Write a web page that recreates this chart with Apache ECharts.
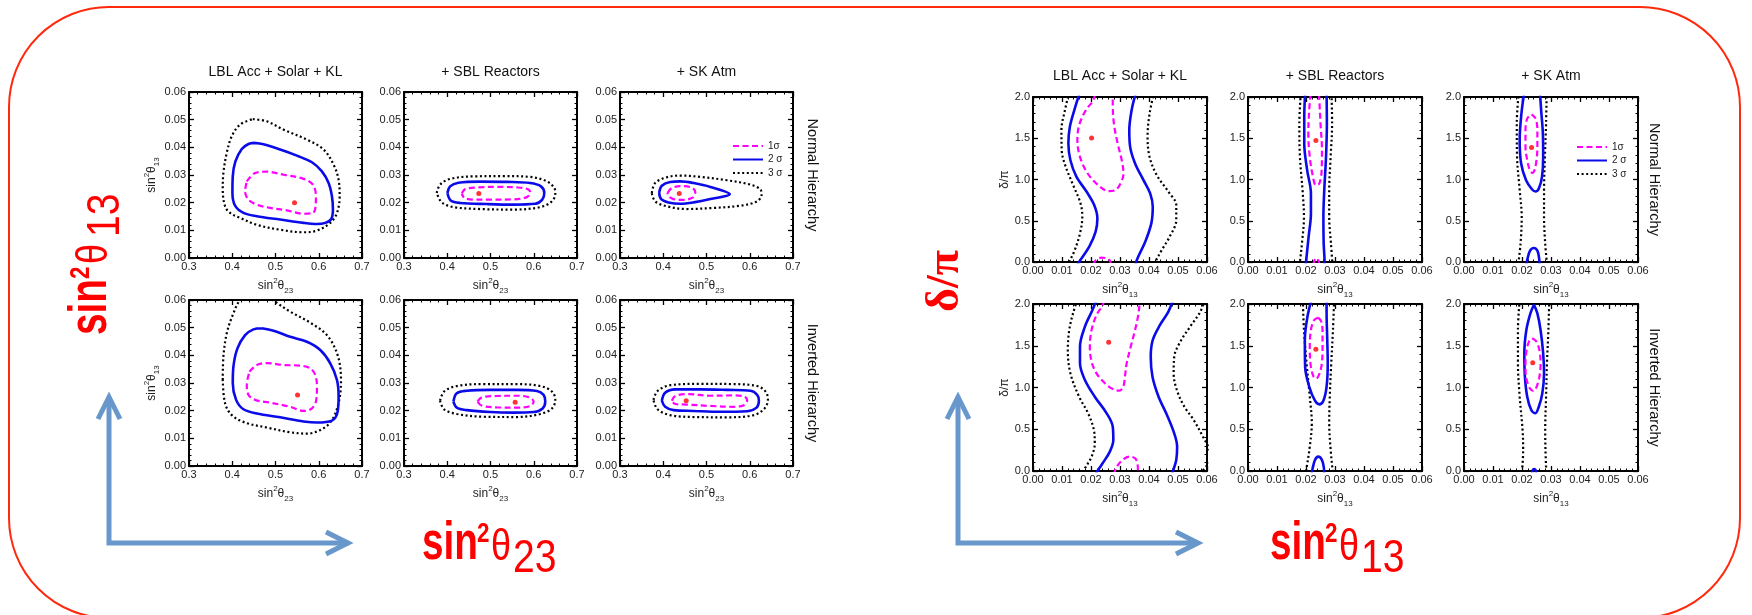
<!DOCTYPE html>
<html>
<head>
<meta charset="utf-8">
<script src="https://cdn.jsdelivr.net/npm/echarts@6/dist/echarts.min.js"></script>
<style>
  html, body { margin: 0; padding: 0; background: #ffffff; }
  #chart { width: 1752px; height: 615px; }
</style>
</head>
<body>
<div id="chart"></div>
<script>
// ---------------------------------------------------------------
// Text
// ---------------------------------------------------------------
const columnTitles = ['LBL Acc + Solar + KL', '+ SBL Reactors', '+ SK Atm'];
const rowLabels = ['Normal Hierarchy', 'Inverted Hierarchy'];
const sigmaNames = ['1σ', '2 σ', '3 σ'];

// Axis ranges and tick steps
const s23Range = [0.3, 0.7];  const s23Step = 0.1;
const s13Range = [0, 0.06];   const s13Step = 0.01;
const dcpRange = [0, 2];      const dcpStep = 0.5;

// ---------------------------------------------------------------
// sin²θ23 vs sin²θ13 contours  [sin²θ23, sin²θ13]
// ---------------------------------------------------------------
// Normal hierarchy, LBL Acc + Solar + KL
const t23_nh_lbl_1s = [[0.4336,0.0277],[0.4529,0.0307],[0.4799,0.0312],[0.5185,0.0301],[0.5649,0.0286],[0.5865,0.0265],[0.5934,0.0223],[0.5927,0.0187],[0.5865,0.0163],[0.5649,0.0160],[0.5263,0.0172],[0.4876,0.0181],[0.4568,0.0193],[0.4375,0.0211],[0.4297,0.0241]];
const t23_nh_lbl_2s = [[0.4506,0.0416],[0.4722,0.0411],[0.5108,0.0392],[0.5494,0.0370],[0.5842,0.0346],[0.6073,0.0313],[0.6228,0.0271],[0.6305,0.0223],[0.6328,0.0175],[0.6290,0.0141],[0.6151,0.0127],[0.5958,0.0123],[0.5649,0.0127],[0.5108,0.0139],[0.4568,0.0151],[0.4259,0.0163],[0.4066,0.0189],[0.4004,0.0235],[0.4012,0.0295],[0.4073,0.0349],[0.4220,0.0394],[0.4375,0.0412]];
const t23_nh_lbl_3s = [[0.4475,0.0502],[0.4799,0.0494],[0.5185,0.0464],[0.5726,0.0428],[0.6112,0.0392],[0.6344,0.0337],[0.6459,0.0283],[0.6483,0.0223],[0.6421,0.0163],[0.6266,0.0127],[0.5958,0.0099],[0.5649,0.0093],[0.5108,0.0102],[0.4568,0.0120],[0.4181,0.0145],[0.3950,0.0163],[0.3834,0.0187],[0.3780,0.0247],[0.3795,0.0307],[0.3873,0.0380],[0.3988,0.0440],[0.4181,0.0482]];
const t23_nh_lbl_best = [0.544, 0.0200];
// Normal hierarchy, + SBL Reactors
const t23_nh_sbl_1s = [[0.4336,0.0233],[0.4413,0.0249],[0.4683,0.0255],[0.5147,0.0257],[0.5610,0.0255],[0.5857,0.0249],[0.5919,0.0237],[0.5842,0.0220],[0.5533,0.0212],[0.4992,0.0211],[0.4606,0.0211],[0.4398,0.0217]];
const t23_nh_sbl_2s = [[0.4004,0.0235],[0.4066,0.0259],[0.4259,0.0272],[0.4761,0.0276],[0.5378,0.0275],[0.5919,0.0271],[0.6166,0.0259],[0.6243,0.0235],[0.6197,0.0211],[0.6035,0.0196],[0.5533,0.0193],[0.4915,0.0195],[0.4297,0.0199],[0.4081,0.0208]];
const t23_nh_sbl_3s = [[0.3757,0.0235],[0.3834,0.0265],[0.4066,0.0286],[0.4606,0.0295],[0.5301,0.0296],[0.5919,0.0293],[0.6305,0.0277],[0.6475,0.0253],[0.6498,0.0233],[0.6421,0.0205],[0.6151,0.0184],[0.5533,0.0175],[0.4761,0.0177],[0.4143,0.0184],[0.3873,0.0201]];
const t23_nh_sbl_best = [0.473, 0.0233];
// Normal hierarchy, + SK Atm
const t23_nh_atm_1s = [[0.4099,0.0235],[0.4199,0.0253],[0.4431,0.0260],[0.4663,0.0254],[0.4741,0.0237],[0.4687,0.0219],[0.4470,0.0210],[0.4238,0.0213],[0.4122,0.0223]];
const t23_nh_atm_2s = [[0.3905,0.0235],[0.3967,0.0261],[0.4161,0.0275],[0.4393,0.0277],[0.4702,0.0271],[0.5089,0.0257],[0.5538,0.0231],[0.5089,0.0213],[0.4702,0.0201],[0.4393,0.0196],[0.4122,0.0201],[0.3952,0.0213]];
const t23_nh_atm_3s = [[0.3735,0.0235],[0.3812,0.0271],[0.4083,0.0292],[0.4393,0.0298],[0.4857,0.0293],[0.5476,0.0281],[0.6017,0.0265],[0.6250,0.0247],[0.6273,0.0229],[0.6172,0.0205],[0.5785,0.0189],[0.5166,0.0181],[0.4547,0.0177],[0.4083,0.0187],[0.3812,0.0205]];
const t23_nh_atm_best = [0.437, 0.0233];
// Inverted hierarchy, LBL Acc + Solar + KL
const t23_ih_lbl_1s = [[0.4398,0.0341],[0.4568,0.0365],[0.4799,0.0372],[0.5185,0.0365],[0.5571,0.0363],[0.5803,0.0353],[0.5919,0.0329],[0.5958,0.0287],[0.5942,0.0239],[0.5842,0.0208],[0.5649,0.0199],[0.5340,0.0214],[0.4876,0.0229],[0.4529,0.0239],[0.4375,0.0257],[0.4336,0.0293]];
const t23_ih_lbl_2s = [[0.4683,0.0498],[0.4954,0.0489],[0.5340,0.0467],[0.5726,0.0449],[0.6035,0.0419],[0.6266,0.0371],[0.6421,0.0311],[0.6459,0.0251],[0.6436,0.0196],[0.6305,0.0164],[0.5958,0.0157],[0.5649,0.0161],[0.5108,0.0176],[0.4568,0.0190],[0.4259,0.0205],[0.4089,0.0239],[0.4012,0.0299],[0.4027,0.0359],[0.4120,0.0425],[0.4297,0.0473],[0.4490,0.0494]];
const t23_ih_lbl_3s = [[0.3780,0.0311],[0.3795,0.0395],[0.3873,0.0480],[0.4012,0.0546],[0.4181,0.0600],[0.4413,0.0627],[0.4722,0.0624],[0.4954,0.0598],[0.5340,0.0558],[0.5803,0.0518],[0.6189,0.0473],[0.6436,0.0401],[0.6514,0.0311],[0.6467,0.0233],[0.6305,0.0166],[0.6073,0.0133],[0.5726,0.0117],[0.5340,0.0122],[0.4799,0.0139],[0.4297,0.0157],[0.3988,0.0184],[0.3834,0.0227]];
const t23_ih_lbl_best = [0.551, 0.0257];
// Inverted hierarchy, + SBL Reactors
const t23_ih_sbl_1s = [[0.4699,0.0233],[0.4799,0.0248],[0.5147,0.0253],[0.5610,0.0254],[0.5903,0.0248],[0.5996,0.0233],[0.5919,0.0217],[0.5610,0.0211],[0.5147,0.0212],[0.4799,0.0218]];
const t23_ih_sbl_2s = [[0.4143,0.0233],[0.4220,0.0263],[0.4452,0.0272],[0.4992,0.0275],[0.5610,0.0275],[0.6073,0.0271],[0.6228,0.0257],[0.6266,0.0233],[0.6205,0.0208],[0.5996,0.0195],[0.5533,0.0193],[0.4992,0.0195],[0.4452,0.0202],[0.4220,0.0211]];
const t23_ih_sbl_3s = [[0.3834,0.0236],[0.3927,0.0269],[0.4220,0.0289],[0.4838,0.0296],[0.5610,0.0296],[0.6151,0.0289],[0.6421,0.0269],[0.6498,0.0239],[0.6421,0.0208],[0.6151,0.0188],[0.5610,0.0177],[0.4838,0.0178],[0.4220,0.0188],[0.3927,0.0205]];
const t23_ih_sbl_best = [0.557, 0.0230];
// Inverted hierarchy, + SK Atm
const t23_ih_atm_1s = [[0.4199,0.0236],[0.4277,0.0253],[0.4547,0.0260],[0.5089,0.0254],[0.5631,0.0255],[0.5878,0.0251],[0.5940,0.0236],[0.5863,0.0220],[0.5631,0.0214],[0.5089,0.0217],[0.4547,0.0222],[0.4277,0.0224]];
const t23_ih_atm_2s = [[0.3967,0.0236],[0.4044,0.0265],[0.4277,0.0277],[0.4857,0.0277],[0.5476,0.0275],[0.6017,0.0272],[0.6172,0.0257],[0.6211,0.0236],[0.6157,0.0211],[0.5940,0.0198],[0.5321,0.0196],[0.4702,0.0199],[0.4238,0.0202],[0.4044,0.0214]];
const t23_ih_atm_3s = [[0.3774,0.0239],[0.3867,0.0271],[0.4161,0.0292],[0.4857,0.0297],[0.5631,0.0296],[0.6172,0.0289],[0.6366,0.0269],[0.6420,0.0241],[0.6342,0.0208],[0.6095,0.0184],[0.5476,0.0176],[0.4702,0.0177],[0.4161,0.0184],[0.3867,0.0205]];
const t23_ih_atm_best = [0.453, 0.0236];

// ---------------------------------------------------------------
// sin²θ13 vs δ/π contours  [sin²θ13, δ/π]
// ---------------------------------------------------------------
// Normal hierarchy, LBL Acc + Solar + KL
const dcp_nh_lbl_1s_top = [[0.0213,2.04],[0.0208,1.96],[0.0182,1.839],[0.0159,1.657],[0.0153,1.476],[0.0162,1.274],[0.0187,1.081],[0.0225,0.931],[0.0260,0.859],[0.0283,0.871],[0.0302,0.952],[0.0312,1.073],[0.0306,1.234],[0.0292,1.435],[0.0279,1.677],[0.0275,1.919],[0.0275,2.04]];
const dcp_nh_lbl_1s_bot = [[0.0208,-0.036],[0.0217,0.024],[0.0237,0.052],[0.0254,0.044],[0.0265,0.016],[0.0269,-0.036]];
const dcp_nh_lbl_2s_left = [[0.0160,2.04],[0.0144,1.859],[0.0127,1.637],[0.0122,1.435],[0.0129,1.234],[0.0150,1.032],[0.0185,0.851],[0.0211,0.690],[0.0222,0.528],[0.0216,0.367],[0.0194,0.185],[0.0159,0.0],[0.0150,-0.056]];
const dcp_nh_lbl_2s_right = [[0.0354,2.04],[0.0340,1.839],[0.0332,1.597],[0.0335,1.395],[0.0352,1.194],[0.0381,0.992],[0.0404,0.831],[0.0413,0.669],[0.0408,0.468],[0.0387,0.246],[0.0358,0.024],[0.0354,-0.056]];
const dcp_nh_lbl_3s_left = [[0.0125,2.06],[0.0110,1.839],[0.0098,1.597],[0.0099,1.355],[0.0113,1.153],[0.0141,0.911],[0.0164,0.710],[0.0170,0.548],[0.0162,0.347],[0.0144,0.145],[0.0125,0.0],[0.0118,-0.056]];
const dcp_nh_lbl_3s_right = [[0.0418,2.06],[0.0402,1.798],[0.0395,1.516],[0.0402,1.274],[0.0427,1.052],[0.0467,0.851],[0.0494,0.690],[0.0494,0.508],[0.0471,0.306],[0.0444,0.145],[0.0421,0.0],[0.0413,-0.056]];
const dcp_nh_lbl_best = [0.0202, 1.504];
// Normal hierarchy, + SBL Reactors
const dcp_nh_sbl_1s_top = [[0.0216,2.04],[0.0211,1.839],[0.0208,1.556],[0.0213,1.274],[0.0223,1.052],[0.0234,0.931],[0.0246,0.952],[0.0254,1.113],[0.0255,1.355],[0.0250,1.677],[0.0246,1.96],[0.0245,2.04]];
const dcp_nh_sbl_1s_bot = [[0.0225,-0.036],[0.0230,0.024],[0.0237,0.044],[0.0243,0.016],[0.0246,-0.036]];
const dcp_nh_sbl_2s_left = [[0.0197,2.04],[0.0194,1.758],[0.0194,1.435],[0.0204,1.113],[0.0217,0.831],[0.0217,0.589],[0.0209,0.306],[0.0200,0.0],[0.0198,-0.056]];
const dcp_nh_sbl_2s_right = [[0.0271,2.04],[0.0272,1.677],[0.0269,1.274],[0.0263,0.871],[0.0260,0.548],[0.0261,0.226],[0.0264,0.0],[0.0264,-0.056]];
const dcp_nh_sbl_3s_left = [[0.0182,2.04],[0.0177,1.677],[0.0179,1.274],[0.0188,0.871],[0.0193,0.548],[0.0186,0.226],[0.0179,0.0],[0.0177,-0.056]];
const dcp_nh_sbl_3s_right = [[0.0288,2.04],[0.0290,1.677],[0.0285,1.274],[0.0280,0.871],[0.0280,0.548],[0.0286,0.226],[0.0292,-0.056]];
const dcp_nh_sbl_best = [0.0234, 1.472];
// Normal hierarchy, + SK Atm
const dcp_nh_atm_1s = [[0.0233,1.790],[0.0247,1.738],[0.0253,1.597],[0.0253,1.395],[0.0250,1.234],[0.0243,1.113],[0.0236,1.081],[0.0227,1.113],[0.0218,1.234],[0.0212,1.395],[0.0212,1.597],[0.0218,1.738]];
const dcp_nh_atm_2s_top = [[0.0208,2.06],[0.0198,1.798],[0.0192,1.476],[0.0197,1.194],[0.0214,0.992],[0.0235,0.879],[0.0247,0.855],[0.0258,0.891],[0.0269,1.032],[0.0273,1.274],[0.0272,1.556],[0.0266,1.839],[0.0262,2.06]];
const dcp_nh_atm_2s_bot = [[0.0214,-0.056],[0.0218,0.024],[0.0227,0.133],[0.0241,0.169],[0.0253,0.137],[0.0259,0.044],[0.0261,-0.056]];
const dcp_nh_atm_3s_left = [[0.0189,2.06],[0.0182,1.677],[0.0183,1.274],[0.0192,0.871],[0.0199,0.548],[0.0195,0.226],[0.0186,-0.056]];
const dcp_nh_atm_3s_right = [[0.0285,2.06],[0.0283,1.677],[0.0279,1.274],[0.0276,0.871],[0.0276,0.548],[0.0280,0.226],[0.0287,-0.056]];
const dcp_nh_atm_best = [0.0233, 1.387];
// Inverted hierarchy, LBL Acc + Solar + KL
const dcp_ih_lbl_1s_top = [[0.0248,2.048],[0.0237,1.968],[0.0219,1.868],[0.0202,1.689],[0.0196,1.489],[0.0202,1.309],[0.0219,1.170],[0.0248,1.050],[0.0277,0.978],[0.0298,0.962],[0.0312,1.018],[0.0317,1.130],[0.0323,1.289],[0.0337,1.489],[0.0352,1.689],[0.0363,1.868],[0.0367,1.988],[0.0368,2.048]];
const dcp_ih_lbl_1s_bot = [[0.0279,-0.048],[0.0286,0.032],[0.0306,0.124],[0.0332,0.172],[0.0352,0.152],[0.0361,0.072],[0.0362,-0.048]];
const dcp_ih_lbl_2s_left = [[0.0219,2.048],[0.0205,1.928],[0.0179,1.729],[0.0162,1.489],[0.0162,1.289],[0.0179,1.090],[0.0213,0.890],[0.0254,0.691],[0.0275,0.531],[0.0277,0.371],[0.0265,0.232],[0.0240,0.092],[0.0217,-0.028]];
const dcp_ih_lbl_2s_right = [[0.0482,2.048],[0.0467,1.908],[0.0438,1.749],[0.0413,1.569],[0.0406,1.369],[0.0412,1.130],[0.0433,0.890],[0.0462,0.671],[0.0487,0.451],[0.0497,0.291],[0.0494,0.132],[0.0482,-0.008],[0.0479,-0.048]];
const dcp_ih_lbl_3s_left = [[0.0153,2.048],[0.0138,1.888],[0.0125,1.689],[0.0120,1.449],[0.0129,1.170],[0.0159,0.890],[0.0190,0.691],[0.0210,0.491],[0.0213,0.331],[0.0202,0.172],[0.0179,0.032],[0.0167,-0.048]];
const dcp_ih_lbl_3s_right = [[0.0591,2.048],[0.0577,1.908],[0.0542,1.729],[0.0508,1.549],[0.0487,1.369],[0.0485,1.170],[0.0496,0.970],[0.0522,0.770],[0.0554,0.611],[0.0586,0.411],[0.0609,0.251],[0.0614,0.132],[0.0591,0.032],[0.0577,-0.048]];
const dcp_ih_lbl_best = [0.0261, 1.541];
// Inverted hierarchy, + SBL Reactors
const dcp_ih_sbl_1s = [[0.0242,1.836],[0.0253,1.788],[0.0257,1.649],[0.0257,1.449],[0.0253,1.250],[0.0242,1.130],[0.0234,1.106],[0.0225,1.138],[0.0216,1.269],[0.0213,1.489],[0.0217,1.689],[0.0228,1.808]];
const dcp_ih_sbl_2s_top = [[0.0219,2.048],[0.0205,1.848],[0.0196,1.569],[0.0197,1.250],[0.0211,1.010],[0.0231,0.842],[0.0246,0.798],[0.0260,0.842],[0.0271,1.010],[0.0275,1.289],[0.0273,1.609],[0.0271,1.888],[0.0271,2.048]];
const dcp_ih_sbl_2s_bot = [[0.0219,-0.048],[0.0223,0.032],[0.0231,0.132],[0.0242,0.172],[0.0254,0.140],[0.0261,0.052],[0.0263,-0.048]];
const dcp_ih_sbl_3s_left = [[0.0189,2.048],[0.0193,1.689],[0.0202,1.289],[0.0213,0.890],[0.0220,0.571],[0.0213,0.291],[0.0200,0.0],[0.0196,-0.048]];
const dcp_ih_sbl_3s_right = [[0.0297,2.048],[0.0293,1.689],[0.0287,1.289],[0.0282,0.890],[0.0280,0.571],[0.0285,0.251],[0.0292,0.0],[0.0294,-0.048]];
const dcp_ih_sbl_best = [0.0234, 1.457];
// Inverted hierarchy, + SK Atm
const dcp_ih_atm_1s = [[0.0235,1.589],[0.0250,1.549],[0.0261,1.429],[0.0264,1.269],[0.0259,1.110],[0.0248,0.990],[0.0239,0.958],[0.0227,0.990],[0.0215,1.110],[0.0212,1.269],[0.0215,1.429],[0.0224,1.549]];
const dcp_ih_atm_2s = [[0.0241,1.992],[0.0253,1.888],[0.0264,1.689],[0.0273,1.409],[0.0276,1.170],[0.0270,0.930],[0.0258,0.770],[0.0246,0.691],[0.0232,0.731],[0.0218,0.890],[0.0210,1.130],[0.0208,1.409],[0.0215,1.689],[0.0229,1.888]];
const dcp_ih_atm_2s_bot = [[0.0235,-0.028],[0.0237,0.012],[0.0242,0.024],[0.0247,0.012],[0.0249,-0.028]];
const dcp_ih_atm_3s_left = [[0.0192,2.048],[0.0186,1.689],[0.0186,1.289],[0.0192,0.890],[0.0202,0.491],[0.0204,0.251],[0.0199,-0.048]];
const dcp_ih_atm_3s_right = [[0.0294,2.048],[0.0291,1.689],[0.0286,1.289],[0.0283,0.890],[0.0280,0.491],[0.0281,0.251],[0.0284,-0.048]];
const dcp_ih_atm_best = [0.0237, 1.297];

// ---------------------------------------------------------------
// Panel tables (row-major: NH row then IH row)
// ---------------------------------------------------------------
function loop(pts) { return pts.concat([pts[0]]); }

const leftPanels = [
  { c1: [loop(t23_nh_lbl_1s)], c2: [loop(t23_nh_lbl_2s)], c3: [loop(t23_nh_lbl_3s)], best: t23_nh_lbl_best },
  { c1: [loop(t23_nh_sbl_1s)], c2: [loop(t23_nh_sbl_2s)], c3: [loop(t23_nh_sbl_3s)], best: t23_nh_sbl_best },
  { c1: [loop(t23_nh_atm_1s)], c2: [loop(t23_nh_atm_2s)], c3: [loop(t23_nh_atm_3s)], best: t23_nh_atm_best },
  { c1: [loop(t23_ih_lbl_1s)], c2: [loop(t23_ih_lbl_2s)], c3: [loop(t23_ih_lbl_3s)], best: t23_ih_lbl_best },
  { c1: [loop(t23_ih_sbl_1s)], c2: [loop(t23_ih_sbl_2s)], c3: [loop(t23_ih_sbl_3s)], best: t23_ih_sbl_best },
  { c1: [loop(t23_ih_atm_1s)], c2: [loop(t23_ih_atm_2s)], c3: [loop(t23_ih_atm_3s)], best: t23_ih_atm_best }
];
const rightPanels = [
  { c1: [dcp_nh_lbl_1s_top, dcp_nh_lbl_1s_bot], c2: [dcp_nh_lbl_2s_left, dcp_nh_lbl_2s_right], c3: [dcp_nh_lbl_3s_left, dcp_nh_lbl_3s_right], best: dcp_nh_lbl_best },
  { c1: [dcp_nh_sbl_1s_top, dcp_nh_sbl_1s_bot], c2: [dcp_nh_sbl_2s_left, dcp_nh_sbl_2s_right], c3: [dcp_nh_sbl_3s_left, dcp_nh_sbl_3s_right], best: dcp_nh_sbl_best },
  { c1: [loop(dcp_nh_atm_1s)], c2: [dcp_nh_atm_2s_top, dcp_nh_atm_2s_bot], c3: [dcp_nh_atm_3s_left, dcp_nh_atm_3s_right], best: dcp_nh_atm_best },
  { c1: [dcp_ih_lbl_1s_top, dcp_ih_lbl_1s_bot], c2: [dcp_ih_lbl_2s_left, dcp_ih_lbl_2s_right], c3: [dcp_ih_lbl_3s_left, dcp_ih_lbl_3s_right], best: dcp_ih_lbl_best },
  { c1: [loop(dcp_ih_sbl_1s)], c2: [dcp_ih_sbl_2s_top, dcp_ih_sbl_2s_bot], c3: [dcp_ih_sbl_3s_left, dcp_ih_sbl_3s_right], best: dcp_ih_sbl_best },
  { c1: [loop(dcp_ih_atm_1s)], c2: [loop(dcp_ih_atm_2s), dcp_ih_atm_2s_bot], c3: [dcp_ih_atm_3s_left, dcp_ih_atm_3s_right], best: dcp_ih_atm_best }
];

// ---------------------------------------------------------------
// Styling / layout
// ---------------------------------------------------------------
const FONT = '"Liberation Sans", Arial, Helvetica, sans-serif';
const RED = '#ff0000';
const ARROW = '#6898cb';
const contourStyles = [
  { color: '#ff00ff', width: 2.2, type: [6, 3.5] },
  { color: '#0b0bea', width: 2.6, type: 'solid' },
  { color: '#000000', width: 2.2, type: [2, 2.6] }
];

const nameRich = {
  m:   { fontSize: 12, lineHeight: 18, verticalAlign: 'middle', fontFamily: FONT, color: '#222' },
  sup: { fontSize: 8,  lineHeight: 8,  verticalAlign: 'top',    fontFamily: FONT, color: '#222' },
  sub: { fontSize: 8,  lineHeight: 8,  verticalAlign: 'bottom', fontFamily: FONT, color: '#222' }
};
const nameS23 = '{m|sin}{sup|2}{m|θ}{sub|23}';
const nameS13 = '{m|sin}{sup|2}{m|θ}{sub|13}';

const blocks = [
  { lefts: [189, 404, 620], width: 173, tops: [92, 300], heights: [166, 166],
    xr: s23Range, xs: s23Step, xd: 1, yr: s13Range, ys: s13Step, yd: 2,
    xName: nameS23, yName: nameS13, yNameGap: 25, panels: leftPanels,
    titleY: 72, rowLabelX: 812 },
  { lefts: [1033, 1248, 1464], width: 174, tops: [97, 304], heights: [165, 167],
    xr: s13Range, xs: s13Step, xd: 2, yr: dcpRange, ys: dcpStep, yd: 1,
    xName: nameS13, yName: 'δ/π', yNameGap: 19, panels: rightPanels,
    titleY: 76, rowLabelX: 1654 }
];

function valueAxis(gi, pos, range, step, digits, withLabels) {
  return {
    type: 'value', gridIndex: gi, position: pos,
    min: range[0], max: range[1], interval: step,
    axisLine: { show: true, onZero: false, lineStyle: { color: '#000', width: 2 } },
    axisTick: { show: true, inside: true, length: 5, lineStyle: { color: '#000', width: 1.3 } },
    minorTick: { show: true, splitNumber: 5, length: 2.5, lineStyle: { color: '#000', width: 1 } },
    splitLine: { show: false },
    minorSplitLine: { show: false },
    axisLabel: { show: withLabels, fontSize: 11, color: '#222', fontFamily: FONT, margin: 3,
                 formatter: v => v.toFixed(digits) }
  };
}

const grids = [], xAxes = [], yAxes = [], series = [];
const graphics = [];

blocks.forEach(b => {
  for (let r = 0; r < 2; r++) {
    for (let c = 0; c < 3; c++) {
      const gi = grids.length;
      const p = b.panels[r * 3 + c];
      grids.push({ left: b.lefts[c], top: b.tops[r], width: b.width, height: b.heights[r], containLabel: false });

      const xb = valueAxis(gi, 'bottom', b.xr, b.xs, b.xd, true);
      xb.name = b.xName; xb.nameLocation = 'middle'; xb.nameGap = 19;
      xb.nameTextStyle = { fontFamily: FONT, fontSize: 12, color: '#222', rich: nameRich };
      xAxes.push(xb, valueAxis(gi, 'top', b.xr, b.xs, b.xd, false));

      const yl = valueAxis(gi, 'left', b.yr, b.ys, b.yd, true);
      if (c === 0) {
        yl.name = b.yName; yl.nameLocation = 'middle'; yl.nameGap = b.yNameGap; yl.nameRotate = 90;
        yl.nameTextStyle = { fontFamily: FONT, fontSize: 12, color: '#222', rich: nameRich };
      }
      yAxes.push(yl, valueAxis(gi, 'right', b.yr, b.ys, b.yd, false));

      // 3σ, 2σ, 1σ contours then the best-fit point
      [p.c3, p.c2, p.c1].forEach((segs, k) => {
        const s = 2 - k;
        segs.forEach(seg => {
          series.push({
            type: 'line', name: sigmaNames[s], xAxisIndex: 2 * gi, yAxisIndex: 2 * gi,
            data: seg, symbol: 'none', smooth: 0.35, silent: true, clip: true,
            lineStyle: contourStyles[s], itemStyle: { color: contourStyles[s].color }, z: 2 + k
          });
        });
      });
      series.push({
        type: 'scatter', name: 'best fit', xAxisIndex: 2 * gi, yAxisIndex: 2 * gi,
        data: [p.best], symbolSize: 5, itemStyle: { color: RED }, silent: true, z: 6
      });

      if (r === 0) {
        graphics.push({ type: 'text', x: b.lefts[c] + b.width / 2, y: b.titleY,
          style: { text: columnTitles[c], font: '14px ' + FONT, fill: '#111',
                   align: 'center', verticalAlign: 'middle', textAlign: 'center', textVerticalAlign: 'middle' } });
      }
    }
    graphics.push({ type: 'text', x: b.rowLabelX, y: b.tops[r] + b.heights[r] / 2, rotation: -Math.PI / 2,
      style: { text: rowLabels[r], font: '14.5px ' + FONT, fill: '#111',
               align: 'center', verticalAlign: 'middle', textAlign: 'center', textVerticalAlign: 'middle' } });
  }
});

// Large red axis captions: sin²θ with sub-index; offsets along the baseline
function mathCaption(x, y, rotation, subIndex, offs) {
  const glyph = (text, dx, base, size, weight, sx) => ({
    type: 'text', x: dx, y: base - 0.3465 * size, scaleX: sx,
    style: { text: text, font: weight + ' ' + size + 'px "Liberation Sans", Arial, sans-serif', fill: RED,
             align: 'left', verticalAlign: 'middle', textAlign: 'left', textVerticalAlign: 'middle' }
  });
  return {
    type: 'group', x: x, y: y, rotation: rotation,
    children: [
      glyph('sin', 0, 0, 53, 'bold', 0.73),
      glyph('2', offs[0], -19, 28, 'bold', 0.8),
      glyph('θ', offs[1], 0, 45, 'normal', 0.8),
      glyph(subIndex, offs[2], 12, 46, 'normal', 0.85)
    ]
  };
}

// Outer rounded frame
graphics.unshift({ type: 'rect', shape: { x: 9, y: 7, width: 1731, height: 611, r: 100 },
  style: { fill: 'none', stroke: '#ff2a0e', lineWidth: 2 }, z: 0 });

// Axis arrows
function arrow(x0, yTop, yCorner, xTip) {
  const st = { stroke: ARROW, lineWidth: 5, fill: 'none', lineJoin: 'miter' };
  return [
    { type: 'polyline', shape: { points: [[x0, yTop], [x0, yCorner], [xTip, yCorner]] }, style: st },
    { type: 'polyline', shape: { points: [[x0 - 11, yTop + 22], [x0, yTop], [x0 + 11, yTop + 22]] }, style: st },
    { type: 'polyline', shape: { points: [[xTip - 22, yCorner - 11], [xTip, yCorner], [xTip - 22, yCorner + 11]] }, style: st }
  ];
}
graphics.push(...arrow(109, 397, 543, 348));
graphics.push(...arrow(958, 397, 543, 1198));

graphics.push(mathCaption(110, 335, Math.PI / 2, '13', [56, 71, 98]));
graphics.push(mathCaption(422, 563, 0, '23', [55, 69, 91]));
graphics.push(mathCaption(1270, 563, 0, '13', [55, 69, 91]));
graphics.push({ type: 'text', x: 946, y: 281, rotation: Math.PI / 2,
  style: { text: 'δ/π', font: 'bold 46px "Liberation Serif", serif', fill: RED,
           align: 'center', verticalAlign: 'middle', textAlign: 'center', textVerticalAlign: 'middle' } });

function legendAt(left, top) {
  return {
    data: sigmaNames, left: left, top: top, orient: 'vertical', padding: 0,
    itemWidth: 30, itemHeight: 10, itemGap: 3.5, selectedMode: false,
    itemStyle: { opacity: 0 },
    textStyle: { fontSize: 10, color: '#222', fontFamily: FONT }
  };
}

const chart = echarts.init(document.getElementById('chart'), null, { renderer: 'canvas' });
chart.setOption({
  animation: false,
  backgroundColor: '#ffffff',
  grid: grids,
  xAxis: xAxes,
  yAxis: yAxes,
  legend: [legendAt(732, 141), legendAt(1576, 142)],
  series: series,
  graphic: { elements: graphics }
});
</script>
</body>
</html>
